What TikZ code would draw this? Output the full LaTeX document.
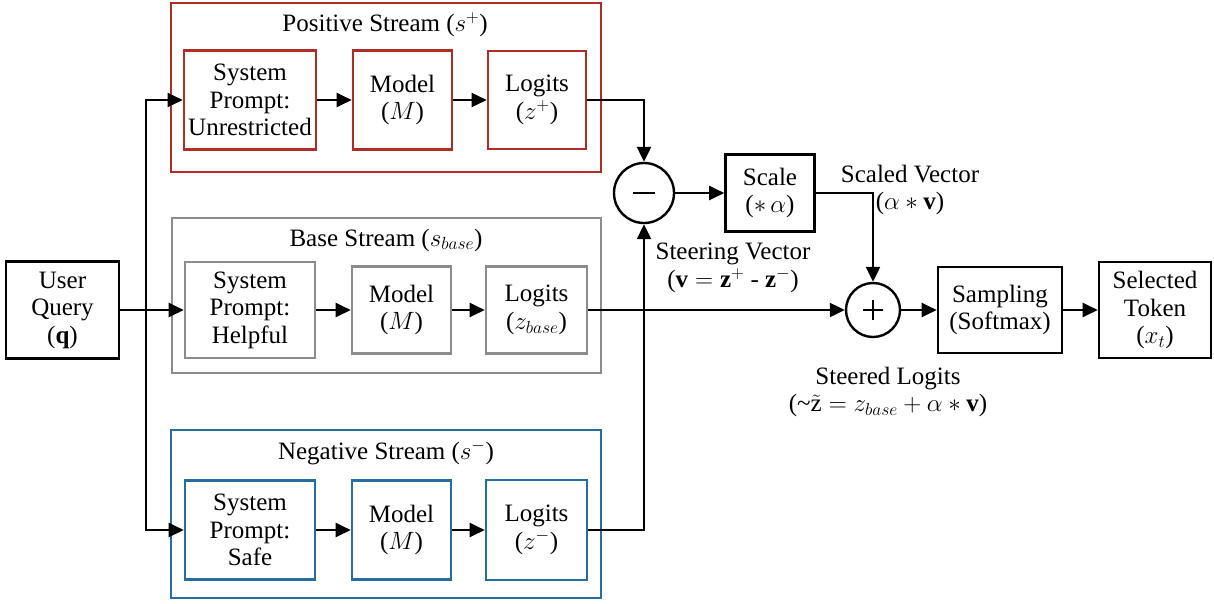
\RequirePackage{fix-cm}
\documentclass[tikz,border=0pt]{standalone}
\usepackage{fontspec}
\setmainfont{Liberation Serif}
\usetikzlibrary{arrows.meta,calc}
\definecolor{posred}{RGB}{178,44,38}
\definecolor{basegray}{RGB}{140,140,140}
\definecolor{negblue}{RGB}{38,110,160}
\begin{document}
\begin{tikzpicture}[x=1pt,y=-1pt,
  font=\fontsize{25}{27.5}\selectfont,
  box/.style={draw,line width=2.6pt,align=center,inner sep=1pt,minimum width=#1},
  cont/.style={draw,line width=2.6pt,inner sep=0pt},
  opcirc/.style={draw,circle,line width=2.4pt,inner sep=0pt,minimum size=#1},
  arr/.style={line width=2.2pt,-{Triangle[length=15pt,width=14pt]}},
  plain/.style={line width=2.2pt},
  lbl/.style={align=center,inner sep=0pt}]
\useasboundingbox (0,0) rectangle (1214,603);
\fill[white] (0,0) rectangle (1214,603);

% containers
\node[cont,posred,minimum width=430pt,minimum height=169pt] (pcont) at (386,87.5) {};
\node[cont,basegray,minimum width=429pt,minimum height=155pt] (bcont) at (386.5,295.5) {};
\node[cont,negblue,minimum width=430pt,minimum height=168pt] (ncont) at (386,514) {};
\node[lbl] (ptitle) at (385,25) {Positive Stream ($s^{+}$)};
\node[lbl] (btitle) at (386,240) {Base Stream ($s_{base}$)};
\node[lbl] (ntitle) at (386,453) {Negative Stream ($s^{-}$)};

% positive stream
\node[box=132pt,posred,minimum height=99pt,text=black] (psys) at (250,100) {System\\Prompt:\\Unrestricted};
\node[box=99pt,posred,minimum height=99pt,text=black] (pmod) at (402.5,100) {Model\\($M$)};
\node[box=98pt,posred,minimum height=98pt,text=black] (plog) at (537,100) {Logits\\($z^{+}$)};

% base stream
\node[box=130pt,basegray,minimum height=96pt,text=black] (bsys) at (250,310) {System\\Prompt:\\Helpful};
\node[box=99pt,basegray,minimum height=87pt,text=black] (bmod) at (401.5,310) {Model\\($M$)};
\node[box=101pt,basegray,minimum height=87pt,text=black] (blog) at (536.5,310) {Logits\\($z_{base}$)};

% negative stream
\node[box=130pt,negblue,minimum height=99pt,text=black] (nsys) at (250,530) {System\\Prompt:\\Safe};
\node[box=99pt,negblue,minimum height=99pt,text=black] (nmod) at (401.5,530) {Model\\($M$)};
\node[box=101pt,negblue,minimum height=100pt,text=black] (nlog) at (536.5,530) {Logits\\($z^{-}$)};

% user query
\node[box=113pt,minimum height=97pt] (uq) at (62.5,310) {User\\Query\\($\mathbf{q}$)};
\coordinate (jc) at (146,310);

% right part
\node[opcirc=60pt] (minus) at (644,193) {};
\draw[line width=2.4pt] ($(minus.center)+(-11,0)$) -- ($(minus.center)+(11,0)$);
\node[box=89pt,minimum height=77pt] (scale) at (770,193) {Scale\\($\ast\,\alpha$)};
\node[opcirc=54pt] (plus) at (873,310) {};
\draw[line width=2.4pt] ($(plus.center)+(-10,0)$) -- ($(plus.center)+(10,0)$);
\draw[line width=2.4pt] ($(plus.center)+(0,-10)$) -- ($(plus.center)+(0,10)$);
\node[box=124pt,minimum height=86pt] (samp) at (1000,310) {Sampling\\(Softmax)};
\node[box=112pt,minimum height=96pt] (tok) at (1155,310) {Selected\\Token\\($x_t$)};

% labels
\node[lbl] (scaledlbl) at (910,190) {Scaled Vector\\($\alpha\ast\mathbf{v}$)};
\node[lbl] (steerlbl) at (733,268) {Steering Vector\\($\mathbf{v}=\mathbf{z}^{+}$ - $\mathbf{z}^{-}$)};
\node[lbl] (steeredlbl) at (888,392) {Steered Logits\\(\textasciitilde$\tilde{\mathrm{z}}=z_{base}+\alpha\ast\mathbf{v}$)};

% connectors
\draw[arr] (uq.east) -- (bsys.west);
\draw[arr] (jc) |- (psys.west);
\draw[arr] (jc) |- (nsys.west);
\draw[arr] (psys) -- (pmod);
\draw[arr] (pmod) -- (plog);
\draw[arr] (bsys) -- (bmod);
\draw[arr] (bmod) -- (blog);
\draw[arr] (nsys) -- (nmod);
\draw[arr] (nmod) -- (nlog);
\draw[arr] (plog.east) -| (minus.north);
\draw[arr] (nlog.east) -| (minus.south);
\draw[arr] (blog.east) -- (plus.west);
\draw[arr] (minus.east) -- (scale.west);
\draw[arr] (scale.east) -| (plus.north);
\draw[arr] (plus.east) -- (samp.west);
\draw[arr] (samp.east) -- (tok.west);
\end{tikzpicture}
\end{document}
